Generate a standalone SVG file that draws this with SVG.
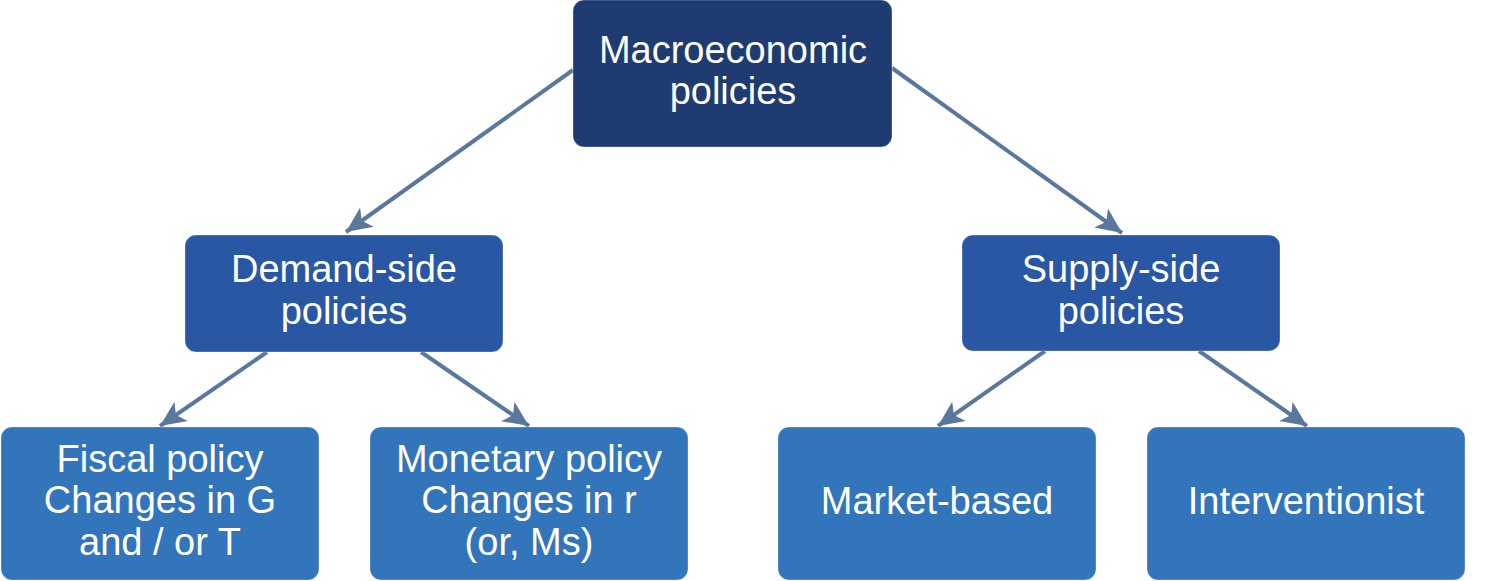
<svg xmlns="http://www.w3.org/2000/svg" width="1510" height="581" viewBox="0 0 1510 581">
<style>
.box{stroke:#ffffff;stroke-width:1;stroke-opacity:0.3}
.l1{fill:#1e3c71}
.l2{fill:#2957a4}
.l3{fill:#3375bb}
text{font-family:"Liberation Sans",Arial,sans-serif;font-size:38px;fill:#ffffff;text-anchor:middle}
.conn{stroke:#5a789e;stroke-width:4;fill:none;marker-end:url(#ah)}
</style>
<defs>
<marker id="ah" markerUnits="userSpaceOnUse" markerWidth="30" markerHeight="30" viewBox="-26 -12 28 24" refX="0" refY="0" orient="auto">
<path d="M0,0 L-24,-11 L-18,0 L-24,11 Z" fill="#5a789e"/>
</marker>
</defs>
<g id="connectors">
<line class="conn" x1="573" y1="70" x2="346" y2="232"/>
<line class="conn" x1="892" y1="68" x2="1122" y2="233"/>
<line class="conn" x1="267" y1="352" x2="160" y2="426"/>
<line class="conn" x1="421" y1="352" x2="529" y2="426"/>
<line class="conn" x1="1045" y1="351" x2="938" y2="426"/>
<line class="conn" x1="1199" y1="351" x2="1307" y2="426"/>
</g>
<g id="macro">
<rect class="box l1" x="573" y="0" width="319" height="147" rx="11"/>
<text x="733" y="63">Macroeconomic</text>
<text x="733" y="104">policies</text>
</g>
<g id="demand">
<rect class="box l2" x="185" y="235" width="318" height="117" rx="11"/>
<text x="344" y="282">Demand-side</text>
<text x="344" y="324">policies</text>
</g>
<g id="supply">
<rect class="box l2" x="962" y="235" width="318" height="116" rx="11"/>
<text x="1121" y="282">Supply-side</text>
<text x="1121" y="324">policies</text>
</g>
<g id="fiscal">
<rect class="box l3" x="1" y="427" width="318" height="153" rx="11"/>
<text x="160" y="472">Fiscal policy</text>
<text x="160" y="513">Changes in G</text>
<text x="160" y="555">and / or T</text>
</g>
<g id="monetary">
<rect class="box l3" x="370" y="427" width="318" height="153" rx="11"/>
<text x="529" y="472">Monetary policy</text>
<text x="529" y="513">Changes in r</text>
<text x="529" y="555">(or, Ms)</text>
</g>
<g id="market">
<rect class="box l3" x="778" y="427" width="318" height="153" rx="11"/>
<text x="937" y="514">Market-based</text>
</g>
<g id="interventionist">
<rect class="box l3" x="1147" y="427" width="318" height="153" rx="11"/>
<text x="1306" y="514">Interventionist</text>
</g>
</svg>
